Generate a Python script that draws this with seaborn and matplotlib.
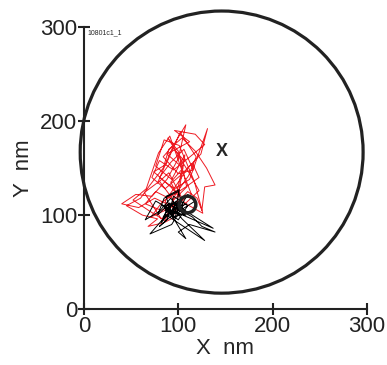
import matplotlib
matplotlib.use("Agg")
import matplotlib.pyplot as plt
import seaborn as sns
import pandas as pd
from matplotlib.patches import Circle

# red trajectory (nm)
red_x = [100, 92, 105, 88, 112, 96, 118, 128, 110, 95, 80, 72, 86, 102, 115, 122, 108, 90, 76, 65,
         82, 98, 110, 120, 125, 128, 139, 130, 118, 104, 90, 84, 70, 60, 45, 62, 78, 68, 85, 100,
         92, 75, 58, 40, 55, 72, 88, 100, 108, 96, 84, 100, 116, 106, 92, 80, 96, 112, 131, 124,
         110, 98, 86, 95, 104, 90, 78, 94, 106, 99, 83, 71, 88, 114, 103, 91, 79, 66, 52, 70,
         86, 97, 111, 119, 102, 87, 74, 92, 108, 126, 117, 101, 85, 76, 93, 107, 98, 82, 64, 80,
         95, 109, 100, 89, 112, 122, 105]
red_y = [120, 135, 150, 165, 178, 190, 186, 175, 160, 148, 158, 140, 128, 142, 155, 140, 130, 118, 125, 112,
         105, 112, 125, 118, 105, 130, 132, 150, 168, 182, 170, 150, 132, 118, 110, 100, 96, 88, 92, 100,
         110, 118, 108, 112, 122, 120, 138, 160, 196, 176, 162, 144, 148, 170, 156, 140, 128, 138, 192, 165,
         150, 132, 115, 100, 118, 145, 134, 172, 158, 126, 114, 98, 106, 122, 150, 184, 166, 128, 116, 104,
         94, 122, 142, 162, 188, 154, 146, 130, 112, 102, 136, 174, 180, 152, 138, 164, 108, 96, 124, 136,
         116, 130, 168, 182, 144, 126, 110]

# black trajectory (nm)
blk_x = [104, 92, 98, 86, 100, 110, 95, 88, 80, 96, 108, 90, 78, 85, 100, 105, 93, 70, 84, 97,
         115, 125, 139, 112, 100, 108, 96, 88, 76, 65, 80, 92, 102, 118, 110, 96, 90, 83, 99, 106,
         94, 87, 101, 97, 89, 128, 104, 91, 82, 96, 103, 93, 86, 98, 137, 107, 95, 84, 99, 109]
blk_y = [108, 100, 115, 105, 95, 110, 120, 95, 88, 102, 100, 112, 100, 118, 125, 110, 90, 80, 96, 108,
         98, 88, 82, 90, 82, 75, 95, 108, 115, 95, 104, 118, 105, 115, 122, 98, 106, 110, 112, 102,
         97, 120, 127, 104, 99, 73, 96, 113, 92, 109, 117, 101, 107, 103, 86, 105, 114, 98, 108, 112]

center = (146, 167)
radius = 150
x_mark = (146, 168)
o_mark = (109, 112)
ticks = [0, 100, 200, 300]

sns.set_style("ticks")
plt.rcParams['font.family'] = ['Liberation Sans', 'DejaVu Sans']

fig = plt.figure(figsize=(3.87, 3.65), dpi=100)
ax = fig.add_axes([0.217, 0.153, 0.731, 0.773])

red = pd.DataFrame({"x": red_x, "y": red_y})
blk = pd.DataFrame({"x": blk_x, "y": blk_y})
sns.lineplot(data=red, x="x", y="y", sort=False, estimator=None, color="#ee1c24", lw=0.7, ax=ax)
sns.lineplot(data=blk, x="x", y="y", sort=False, estimator=None, color="black", lw=0.7, ax=ax)

ax.add_patch(Circle(center, radius, fill=False, ec="#222222", lw=2.3, clip_on=False))
ax.text(x_mark[0], x_mark[1], "X", fontsize=13, fontweight="bold", ha="center", va="center")
ax.plot([o_mark[0]], [o_mark[1]], "o", mfc="none", mec="#222222", mew=2.5, ms=12)

ax.set_xlim(0, 300)
ax.set_ylim(0, 300)
ax.set_xticks(ticks)
ax.set_yticks(ticks)
ax.tick_params(direction="inout", length=8, width=1.5, labelsize=16, pad=1, colors="#222222")
for s in ["left", "bottom"]:
    ax.spines[s].set_linewidth(1.5)
    ax.spines[s].set_color("#222222")
sns.despine(ax=ax)
ax.set_xlabel("X  nm", fontsize=16, labelpad=1)
ax.set_ylabel("Y  nm", fontsize=16, labelpad=4)
ax.text(4, 292, "10801c1_1", fontsize=5)

fig.savefig("out.png", dpi=100)
